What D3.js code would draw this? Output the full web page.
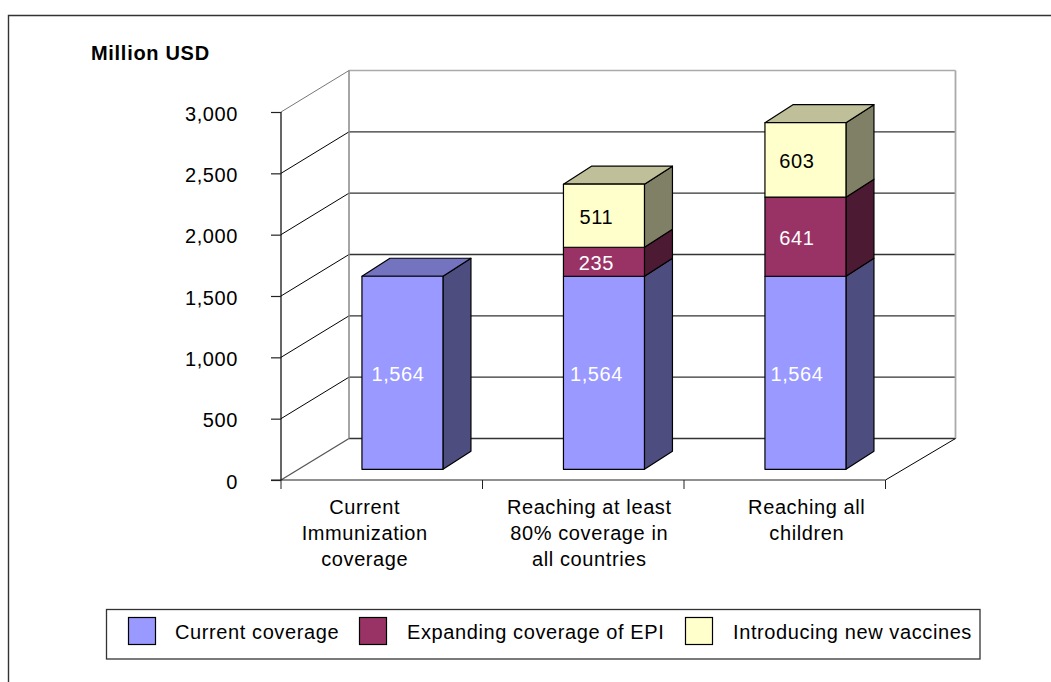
<!DOCTYPE html>
<html>
<head>
<meta charset="utf-8">
<script src="https://cdn.jsdelivr.net/npm/d3@7"></script>
<style>
  html, body { margin: 0; padding: 0; background: #fff; }
  svg { display: block; }
  text { font-family: "Liberation Sans", Arial, sans-serif; fill: #000; font-size: 20px; letter-spacing: 0.6px; }
</style>
</head>
<body>
<div id="chart"></div>
<script>
const categories = [
    ['Current', 'Immunization', 'coverage'],
    ['Reaching at least', '80% coverage in', 'all countries'],
    ['Reaching all', 'children']
];
const seriesNames = ['Current coverage', 'Expanding coverage of EPI', 'Introducing new vaccines'];
const currentCoverage = [1564, 1564, 1564];
const expandingCoverage = [0, 235, 641];
const newVaccines = [0, 511, 603];
const yTicks = [0, 500, 1000, 1500, 2000, 2500, 3000];

const colors = ['#9999ff', '#993366', '#ffffcc'];
const sideColors = ['#4d4d80', '#4d1a33', '#808066'];
const topColors = ['#7373bf', '#732650', '#bfbf99'];
const labelColors = ['#fff', '#fff', '#000'];

const width = 1051, height = 682;
const svg = d3.select('#chart').append('svg').attr('width', width).attr('height', height);

// frame, only top and left are inside the picture
svg.append('path')
    .attr('d', 'M8.5,682V15.5H1051')
    .attr('fill', 'none').attr('stroke', '#333').attr('stroke-width', 1.4);

// front plane of the box
const x = d3.scaleBand().domain(d3.range(3)).range([281, 885.5]);
const y = d3.scaleLinear().domain([0, 3000]).range([480, 112]);
// plane the bar fronts stand on
const yBar = d3.scaleLinear().domain([0, 3000]).range([469.3, 99]);
const depth = { x: 68, xRight: 70, y: -41.5 };
const barShift = 20.7;
const barDepth = { x: 28, y: -18 };
const barWidth = x.bandwidth() * 0.402;

const wall = svg.append('g').attr('fill', 'none');
const backX0 = x.range()[0] + depth.x, backX1 = x.range()[1] + depth.xRight;

// grid on the back wall and the side wall
yTicks.forEach(t => {
    const inner = t > 0 && t < 3000;
    wall.append('line')
        .attr('x1', x.range()[0]).attr('y1', y(t))
        .attr('x2', backX0).attr('y2', y(t) + depth.y)
        .attr('stroke', inner ? '#000' : (t === 0 ? '#555' : '#777')).attr('stroke-width', t === 0 ? 1.3 : 1);
    wall.append('line')
        .attr('x1', backX0).attr('y1', y(t) + depth.y)
        .attr('x2', backX1).attr('y2', y(t) + depth.y)
        .attr('stroke', t === 3000 ? '#aaa' : '#333').attr('stroke-width', t === 3000 ? 1.6 : 1.3);
});
wall.append('line')
    .attr('x1', backX0).attr('y1', y(3000) + depth.y)
    .attr('x2', backX0).attr('y2', y(0) + depth.y)
    .attr('stroke', '#888').attr('stroke-width', 1.5);
wall.append('line')
    .attr('x1', backX1).attr('y1', y(3000) + depth.y)
    .attr('x2', backX1).attr('y2', y(0) + depth.y)
    .attr('stroke', '#aaa').attr('stroke-width', 1.8);
// floor edge on the right
wall.append('line')
    .attr('x1', x.range()[1]).attr('y1', y(0))
    .attr('x2', backX1).attr('y2', y(0) + depth.y)
    .attr('stroke', '#000');

// axes
const axisY = d3.axisLeft(y).tickValues(yTicks).tickSize(10).tickFormat(d3.format(','));
const gy = svg.append('g').attr('transform', 'translate(' + x.range()[0] + ',0)').call(axisY);
gy.selectAll('text').attr('x', -43).attr('dy', '0.4em');
gy.select('.domain').attr('d', 'M0,' + y(3000) + 'V' + y(0)).attr('stroke-width', 1.2);
gy.selectAll('.tick line').attr('stroke', '#222').attr('stroke-width', 1.2);

const gx = svg.append('g').attr('transform', 'translate(0,' + y(0) + ')');
gx.append('line')
    .attr('x1', x.range()[0] - 10).attr('x2', x.range()[1])
    .attr('stroke', '#222').attr('stroke-width', 1.2);
gx.selectAll('.tick-mark')
    .data(d3.range(4))
    .join('line')
    .attr('class', 'tick-mark')
    .attr('x1', i => x.range()[0] + i * x.step())
    .attr('x2', i => x.range()[0] + i * x.step())
    .attr('y1', 0).attr('y2', 9)
    .attr('stroke', '#222');

// category labels, wrapped boxes are not centred on the band
const labelShift = [-17, 6, 22];
categories.forEach((lines, i) => {
    lines.forEach((line, j) => {
        svg.append('text')
            .attr('x', x(i) + x.bandwidth() / 2 + labelShift[i])
            .attr('y', 514 + j * 26)
            .attr('text-anchor', 'middle')
            .text(line);
    });
});

// stacked bars
const rows = d3.range(3).map(i => ({ i, current: currentCoverage[i], expanding: expandingCoverage[i], vaccines: newVaccines[i] }));
const stacked = d3.stack().keys(['current', 'expanding', 'vaccines'])(rows);
const barsG = svg.append('g').attr('stroke', '#000').attr('stroke-width', 1.2).attr('stroke-linejoin', 'round');
const valueShift = [-4.5, -7.5, -8.5];

stacked.forEach((layer, s) => {
    layer.forEach((d, i) => {
        if (d[1] === d[0]) return;
        const x0 = x(i) + (x.bandwidth() - barWidth) / 2 + barShift;
        const x1 = x0 + barWidth;
        const y0 = yBar(d[0]), y1 = yBar(d[1]);
        const isTop = d[1] === d3.max(stacked, l => l[i][1]);

        barsG.append('path')
            .attr('d', d3.line()([[x1, y1], [x1 + barDepth.x, y1 + barDepth.y], [x1 + barDepth.x, y0 + barDepth.y], [x1, y0]]) + 'Z')
            .attr('fill', sideColors[s]);
        if (isTop)
            barsG.append('path')
                .attr('d', d3.line()([[x0, y1], [x0 + barDepth.x, y1 + barDepth.y], [x1 + barDepth.x, y1 + barDepth.y], [x1, y1]]) + 'Z')
                .attr('fill', topColors[s]);
        barsG.append('rect')
            .attr('x', x0).attr('y', y1)
            .attr('width', barWidth).attr('height', y0 - y1)
            .attr('fill', colors[s]);
        svg.append('text')
            .attr('x', (x0 + x1) / 2 + valueShift[i])
            .attr('y', (y0 + y1) / 2 + 8)
            .attr('text-anchor', 'middle')
            .style('fill', labelColors[s])
            .text(d3.format(',')(d[1] - d[0]));
    });
});

// unit title
svg.append('text')
    .attr('x', 91).attr('y', 60)
    .style('font-weight', 'bold').style('letter-spacing', '0.7px')
    .text('Million USD');

// legend
const legend = svg.append('g');
legend.append('rect')
    .attr('x', 106.5).attr('y', 609.5).attr('width', 873.5).attr('height', 49.5)
    .attr('fill', '#fff').attr('stroke', '#333').attr('stroke-width', 1.3);
const swatchX = [128.5, 359.5, 685.5];
const labelX = [175, 407, 733];
seriesNames.forEach((name, s) => {
    legend.append('rect')
        .attr('x', swatchX[s]).attr('y', 617.5)
        .attr('width', 27).attr('height', 27)
        .attr('fill', colors[s]).attr('stroke', '#000').attr('stroke-width', 1.2);
    legend.append('text')
        .attr('x', labelX[s]).attr('y', 639)
        .text(name);
});
</script>
</body>
</html>
